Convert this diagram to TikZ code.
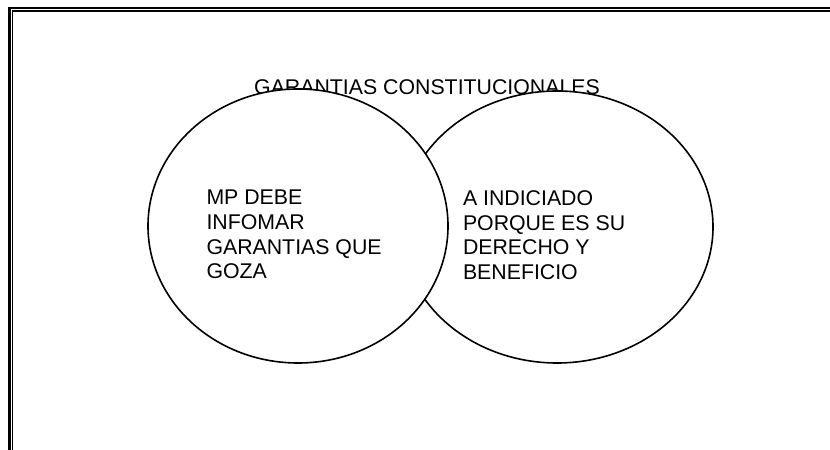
\documentclass[tikz,border=0pt]{standalone}
\usepackage{fontspec}
\setmainfont{Liberation Sans}
\usetikzlibrary{shapes.geometric}
\tikzset{
  bubble/.style={draw=black, fill=white, line width=1.6bp, ellipse, inner sep=0pt},
  txt/.style={inner sep=0pt, outer sep=0pt, align=left, text=black,
    font=\fontsize{21.3bp}{24.7bp}\selectfont},
  frameout/.style={draw=black, line width=2.6bp},
  framein/.style={draw=black, line width=1.3bp}
}
\begin{document}
\begin{tikzpicture}[x=1bp,y=-1bp]
\useasboundingbox (0,0) rectangle (830,450);
\clip (0,0) rectangle (830,450);
\fill[white] (0,0) rectangle (830,450);
% page frame (double line, right and bottom outside the picture)
\draw[frameout] (9.5,8) rectangle (860,480);
\draw[framein] (12.5,11) rectangle (857,477);
% title
\node[txt, anchor=base] (title) at (427,95) {GARANTIAS CONSTITUCIONALES};
% circles
\node[bubble, minimum width=312bp, minimum height=272bp] (right) at (557,227) {};
\node[bubble, minimum width=300bp, minimum height=274bp] (left) at (298,226) {};
% texts
\node[txt, anchor=north west] (ltext) at (206.5,190) {MP DEBE\\INFOMAR\\GARANTIAS QUE\\GOZA};
\node[txt, anchor=north west] (rtext) at (463,190.5) {A INDICIADO\\PORQUE ES SU\\DERECHO Y\\BENEFICIO};
\end{tikzpicture}
\end{document}
